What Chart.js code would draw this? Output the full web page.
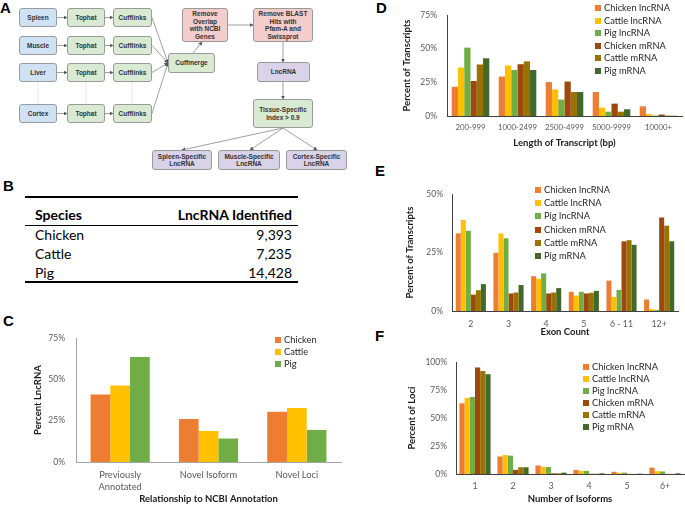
<!DOCTYPE html>
<html>
<head>
<meta charset="utf-8">
<script src="https://cdn.jsdelivr.net/npm/chart.js@4.4.1/dist/chart.umd.min.js"></script>
<style>
  body { margin: 0; background: #fff; }
  #fig { position: relative; width: 685px; height: 505px; overflow: hidden; font-family: Lato, sans-serif; }
  .letter { position: absolute; font: bold 15px/15px "Liberation Sans", Arial, sans-serif; color: #000; }
  .box { position: absolute; box-sizing: border-box; border: 1px solid #9a9a9a; border-radius: 3px;
         display: flex; align-items: center; justify-content: center; text-align: center;
         font: bold 6.5px/7.5px "Liberation Sans", Arial, sans-serif; color: #333; }
  .blue { background: #cfe2f3; } .green { background: #d9ead3; }
  .red { background: #f4cccc; } .purple { background: #d9d2e9; }
  canvas { position: absolute; }
  .tline { position: absolute; left: 25px; width: 273px; background: #000; }
  .tcell { position: absolute; font: 14px/16px Lato, sans-serif; color: #000; white-space: nowrap; }
  .legItem { position: absolute; font: 9.3px/12px Lato, sans-serif; color: #262626; white-space: nowrap; }
  .legItem span { position: absolute; left: 0; top: 3px; width: 6px; height: 6px; }
</style>
</head>
<body>
<div id="fig">
  <div class="letter" style="left:0;top:0">A</div>
  <div class="letter" style="left:3px;top:178px">B</div>
  <div class="letter" style="left:3px;top:313px">C</div>
  <div class="letter" style="left:376px;top:0">D</div>
  <div class="letter" style="left:375px;top:163px">E</div>
  <div class="letter" style="left:375px;top:328px">F</div>

  <svg id="flow" width="360" height="175" style="position:absolute;left:0;top:0">
    <defs>
      <marker id="ah" markerWidth="4" markerHeight="4" refX="3.5" refY="2" orient="auto" markerUnits="userSpaceOnUse">
        <path d="M0,0 L4,2 L0,4 z" fill="#555"/>
      </marker>
    </defs>
    <g id="flowLines" stroke="#777" stroke-width="0.7" fill="none"></g>
  </svg>

  <canvas id="chartC" width="313" height="183" style="left:32px;top:322px"></canvas>
  <canvas id="chartD" width="284" height="150" style="left:401px;top:0"></canvas>
  <canvas id="chartE" width="281" height="158" style="left:404px;top:180px"></canvas>
  <canvas id="chartF" width="279" height="157" style="left:406px;top:348px"></canvas>
</div>

<script>
// ---- data ----
const tableSpecies = ["Chicken", "Cattle", "Pig"];
const tableCounts = ["9,393", "7,235", "14,428"];

const annotCats = [["Previously", "Annotated"], "Novel Isoform", "Novel Loci"];
const annotSpecies = ["Chicken", "Cattle", "Pig"];
const annotChicken = [40.8, 26.0, 30.4];
const annotCattle = [46.3, 18.8, 32.7];
const annotPig = [63.5, 14.2, 19.4];

const seriesNames = ["Chicken lncRNA", "Cattle lncRNA", "Pig lncRNA", "Chicken mRNA", "Cattle mRNA", "Pig mRNA"];

const lengthBins = ["200-999", "1000-2499", "2500-4999", "5000-9999", "10000+"];
const lenChickenLnc = [21.7, 29.3, 25.2, 17.8, 7.2];
const lenCattleLnc = [36.0, 37.6, 19.8, 6.2, 1.4];
const lenPigLnc = [50.8, 34.2, 12.2, 3.2, 0.3];
const lenChickenMrna = [26.0, 38.5, 25.6, 9.2, 1.1];
const lenCattleMrna = [38.3, 40.6, 17.8, 3.2, 0.3];
const lenPigMrna = [42.9, 34.2, 17.8, 5.0, 0.2];

const exonBins = ["2", "3", "4", "5", "6 - 11", "12+"];
const exonChickenLnc = [33.2, 24.9, 14.9, 8.2, 13.0, 4.9];
const exonCattleLnc = [38.9, 33.2, 13.8, 6.6, 6.0, 0.8];
const exonPigLnc = [34.3, 31.1, 16.1, 8.2, 9.0, 0.4];
const exonChickenMrna = [7.0, 7.5, 7.5, 7.5, 29.8, 40.0];
const exonCattleMrna = [8.9, 7.9, 7.9, 7.8, 30.3, 36.5];
const exonPigMrna = [11.5, 11.1, 9.8, 8.6, 28.3, 29.8];

const isoBins = ["1", "2", "3", "4", "5", "6+"];
const isoChickenLnc = [63.2, 15.6, 7.6, 3.7, 2.0, 5.7];
const isoCattleLnc = [68.0, 17.0, 6.5, 2.8, 1.1, 2.5];
const isoPigLnc = [68.8, 16.4, 6.2, 2.8, 1.2, 2.3];
const isoChickenMrna = [95.2, 3.7, 0.6, 0.2, 0.1, 0.1];
const isoCattleMrna = [92.0, 6.0, 0.6, 0.2, 0.1, 0.1];
const isoPigMrna = [89.2, 6.0, 1.2, 0.6, 0.3, 0.6];

const ticks75 = [0, 25, 50, 75];
const ticks50 = [0, 25, 50];
const ticks100 = [0, 25, 50, 75, 100];

const speciesColors = ["#ed7d31", "#ffc000", "#70ad47"];
const seriesColors = ["#ed7d31", "#ffc000", "#70ad47", "#9e480e", "#997300", "#43682b"];

const fig = document.getElementById("fig");

// ---- panel A: pipeline boxes ----
const boxes = [
  ["Spleen", "blue", 19, 8, 38, 19], ["Tophat", "green", 67, 8, 38, 19], ["Cufflinks", "green", 113, 8, 39, 19],
  ["Muscle", "blue", 19, 36, 38, 19], ["Tophat", "green", 67, 36, 38, 19], ["Cufflinks", "green", 113, 36, 39, 19],
  ["Liver", "blue", 19, 63, 38, 19], ["Tophat", "green", 67, 63, 38, 19], ["Cufflinks", "green", 113, 63, 39, 19],
  ["Cortex", "blue", 19, 104, 38, 19], ["Tophat", "green", 67, 104, 38, 19], ["Cufflinks", "green", 113, 104, 39, 19],
  ["Cuffmerge", "green", 168, 53, 47, 20],
  ["Remove<br>Overlap<br>with NCBI<br>Genes", "red", 182, 8, 46, 34],
  ["Remove BLAST<br>Hits with<br>Pfam-A and<br>Swissprot", "red", 253, 8, 60, 34],
  ["LncRNA", "purple", 257, 62, 53, 20],
  ["Tissue-Specific<br>Index &gt; 0.9", "green", 253, 99, 60, 29],
  ["Spleen-Specific<br>LncRNA", "purple", 152, 150, 60, 20],
  ["Muscle-Specific<br>LncRNA", "purple", 218, 150, 62, 20],
  ["Cortex-Specific<br>LncRNA", "purple", 286, 150, 61, 20]
];
boxes.forEach(b => {
  const d = document.createElement("div");
  d.className = "box " + b[1];
  d.style.left = b[2] + "px"; d.style.top = b[3] + "px";
  d.style.width = b[4] + "px"; d.style.height = b[5] + "px";
  d.innerHTML = b[0];
  fig.appendChild(d);
});

const arrows = [];
[17.5, 45.5, 72.5, 113.5].forEach(y => {
  arrows.push([57, y, 67, y], [105, y, 113, y], [152, y, 168, 63]);
});
arrows.push([193, 53, 202, 42], [228, 25, 253, 25], [283, 42, 283, 62], [283, 82, 283, 99],
  [283, 128, 182, 150], [283, 128, 250, 150], [283, 128, 317, 150]);
const g = document.getElementById("flowLines");
arrows.forEach(a => {
  const l = document.createElementNS("http://www.w3.org/2000/svg", "line");
  l.setAttribute("x1", a[0]); l.setAttribute("y1", a[1]);
  l.setAttribute("x2", a[2]); l.setAttribute("y2", a[3]);
  l.setAttribute("marker-end", "url(#ah)");
  g.appendChild(l);
});
[38, 86, 132].forEach(x => {
  const l = document.createElementNS("http://www.w3.org/2000/svg", "line");
  l.setAttribute("x1", x); l.setAttribute("y1", 82); l.setAttribute("x2", x); l.setAttribute("y2", 104);
  l.setAttribute("stroke", "#ccc"); l.setAttribute("stroke-dasharray", "1,1");
  g.appendChild(l);
});

// ---- panel B: table ----
function addEl(cls, css, text) {
  const d = document.createElement("div");
  d.className = cls;
  Object.assign(d.style, css);
  if (text) d.textContent = text;
  fig.appendChild(d);
}
addEl("tline", { top: "196px", height: "1.5px" });
addEl("tline", { top: "225px", height: "1px" });
addEl("tline", { top: "281px", height: "1.5px" });
addEl("tcell", { left: "35px", top: "207px", fontWeight: "bold" }, "Species");
addEl("tcell", { right: "393px", top: "207px", fontWeight: "bold" }, "LncRNA Identified");
tableSpecies.forEach((s, i) => {
  addEl("tcell", { left: "35px", top: (227 + i * 19) + "px" }, s);
  addEl("tcell", { right: "393px", top: (227 + i * 19) + "px" }, tableCounts[i]);
});

// ---- legends ----
function legend(x, y0, step, names, colors) {
  names.forEach((n, i) => {
    const d = document.createElement("div");
    d.className = "legItem";
    d.style.left = x + "px";
    d.style.top = (y0 + i * step - 6) + "px";
    d.style.paddingLeft = "9px";
    d.textContent = n;
    const sq = document.createElement("span");
    sq.style.background = colors[i];
    d.appendChild(sq);
    fig.appendChild(d);
  });
}
legend(275, 339.5, 12.3, annotSpecies, speciesColors);
legend(595, 8, 12.6, seriesNames, seriesColors);
legend(535, 190, 13.2, seriesNames, seriesColors);
legend(583, 367, 12, seriesNames, seriesColors);

// ---- charts ----
const tickFont = { family: "Lato", size: 8.5, lineHeight: 1.2 };
const titleFont = { family: "Lato", size: 9.5, weight: "bold", lineHeight: 1.2 };

function barChart(id, labels, names, values, colors, geo) {
  new Chart(document.getElementById(id), {
    type: "bar",
    data: {
      labels: labels,
      datasets: names.map((n, i) => ({
        label: n,
        data: values[i],
        backgroundColor: colors[i],
        borderWidth: 0
      }))
    },
    options: {
      responsive: false,
      animation: false,
      devicePixelRatio: 1,
      layout: { padding: { top: geo.pt, right: geo.pr, bottom: geo.pb, left: 0 } },
      datasets: { bar: { categoryPercentage: geo.cp, barPercentage: 1 } },
      plugins: { legend: { display: false }, tooltip: { enabled: false } },
      scales: {
        x: {
          grid: { display: false, drawTicks: false },
          border: { color: geo.axis, width: 1 },
          ticks: { font: { family: "Lato", size: geo.catSize, lineHeight: 1.3 }, color: "#595959",
                   padding: geo.xp, maxRotation: 0, autoSkip: false },
          title: { display: true, text: geo.xTitle, font: titleFont, color: "#1a1a1a", padding: 0 },
          afterFit: s => { s.height = geo.xh; }
        },
        y: {
          min: 0,
          max: geo.ticks[geo.ticks.length - 1],
          grid: { display: false, drawTicks: false },
          border: { color: geo.axis, width: 1 },
          afterBuildTicks: s => { s.ticks = geo.ticks.map(v => ({ value: v })); },
          ticks: { font: tickFont, color: "#595959", padding: geo.yp, callback: v => v + "%" },
          title: { display: true, text: geo.yTitle, font: titleFont, color: "#1a1a1a", padding: 0 },
          afterFit: s => { s.width = geo.yw; }
        }
      }
    }
  });
}

barChart("chartC", annotCats, annotSpecies, [annotChicken, annotCattle, annotPig], speciesColors, {
  pt: 10, pr: 4, pb: 0, cp: 0.67, axis: "#a6a6a6", xp: 7, yp: 11, xh: 43, yw: 44, ticks: ticks75,
  catSize: 9.3, xTitle: "Relationship to NCBI Annotation", yTitle: "Percent LncRNA"
});

barChart("chartD", lengthBins, seriesNames,
  [lenChickenLnc, lenCattleLnc, lenPigLnc, lenChickenMrna, lenCattleMrna, lenPigMrna], seriesColors, {
  pt: 7, pr: 3, pb: 1, cp: 0.8, axis: "#404040", xp: 6, yp: 10, xh: 33, yw: 46, ticks: ticks75,
  catSize: 7.8, xTitle: "Length of Transcript (bp)", yTitle: "Percent of Transcripts"
});

barChart("chartE", exonBins, seriesNames,
  [exonChickenLnc, exonCattleLnc, exonPigLnc, exonChickenMrna, exonCattleMrna, exonPigMrna], seriesColors, {
  pt: 9, pr: 7, pb: 0, cp: 0.8, axis: "#404040", xp: 7, yp: 9, xh: 27, yw: 48, ticks: ticks50,
  catSize: 8.8, xTitle: "Exon Count", yTitle: "Percent of Transcripts"
});

barChart("chartF", isoBins, seriesNames,
  [isoChickenLnc, isoCattleLnc, isoPigLnc, isoChickenMrna, isoCattleMrna, isoPigMrna], seriesColors, {
  pt: 9, pr: 1, pb: 0, cp: 0.82, axis: "#404040", xp: 6, yp: 9, xh: 31, yw: 50, ticks: ticks100,
  catSize: 8.8, xTitle: "Number of Isoforms", yTitle: "Percent of Loci"
});
</script>
</body>
</html>
